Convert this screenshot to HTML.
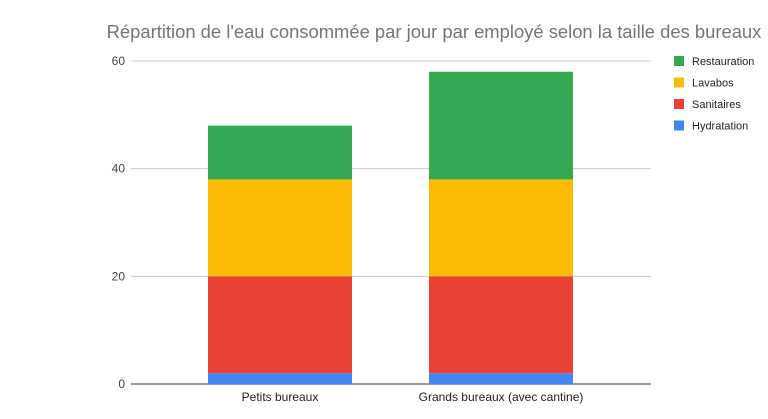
<!DOCTYPE html>
<html><head><meta charset="utf-8"><style>
body{margin:0;background:#fff;}
svg{display:block;font-family:"Liberation Sans",Arial,sans-serif;}
</style></head><body>
<svg id="c" width="768" height="419">
<text x="434" y="38" text-anchor="middle" font-size="18.4" fill="#757575">Répartition de l'eau consommée par jour par employé selon la taille des bureaux</text>
</svg>
<script>
const categories=["Petits bureaux","Grands bureaux (avec cantine)"];
const seriesNames=["Hydratation","Sanitaires","Lavabos","Restauration"];
const hydratation=[2,2];
const sanitaires=[18,18];
const lavabos=[18,18];
const restauration=[10,20];
const yTicks=[0,20,40,60];
const colors=["#4285f4","#ea4335","#fbbc04","#34a853"];
const series=[hydratation,sanitaires,lavabos,restauration];
const ns="http://www.w3.org/2000/svg",svg=document.getElementById("c");
const x0=131,x1=651,y0=384,y1=61;
const yS=v=>y0-(v/60)*(y0-y1);
const band=221,bw=144,bandStart=169.5;
const xC=i=>bandStart+band*(i+0.5);
function mk(t,a,txt){const e=document.createElementNS(ns,t);for(const k in a)e.setAttribute(k,a[k]);if(txt!=null)e.textContent=txt;svg.appendChild(e);return e;}
yTicks.forEach(t=>{
const g=mk("line",{x1:x0,x2:x1,y1:yS(t),y2:yS(t),stroke:t===0?"#333":"#ccc","stroke-width":1});


const l=mk("text",{x:x0-6,y:yS(t)+4,"text-anchor":"end","font-size":12,fill:"#444"},t);


});
categories.forEach((c,i)=>{
let acc=0;
series.forEach((s,j)=>{
const r=mk("rect",{x:xC(i)-bw/2,y:yS(acc+s[i]),width:bw,height:yS(acc)-yS(acc+s[i]),fill:colors[j]});


acc+=s[i];
});
const l=mk("text",{x:xC(i),y:401,"text-anchor":"middle","font-size":12,fill:"#222"},c);


});
[3,2,1,0].forEach((j,k)=>{
const y=56+k*21.5;
const r=mk("rect",{x:674,y:y,width:10,height:10,fill:colors[j]});


const t=mk("text",{x:692,y:y+9,"font-size":11,fill:"#222"},seriesNames[j]);


});
</script>
</body></html>
